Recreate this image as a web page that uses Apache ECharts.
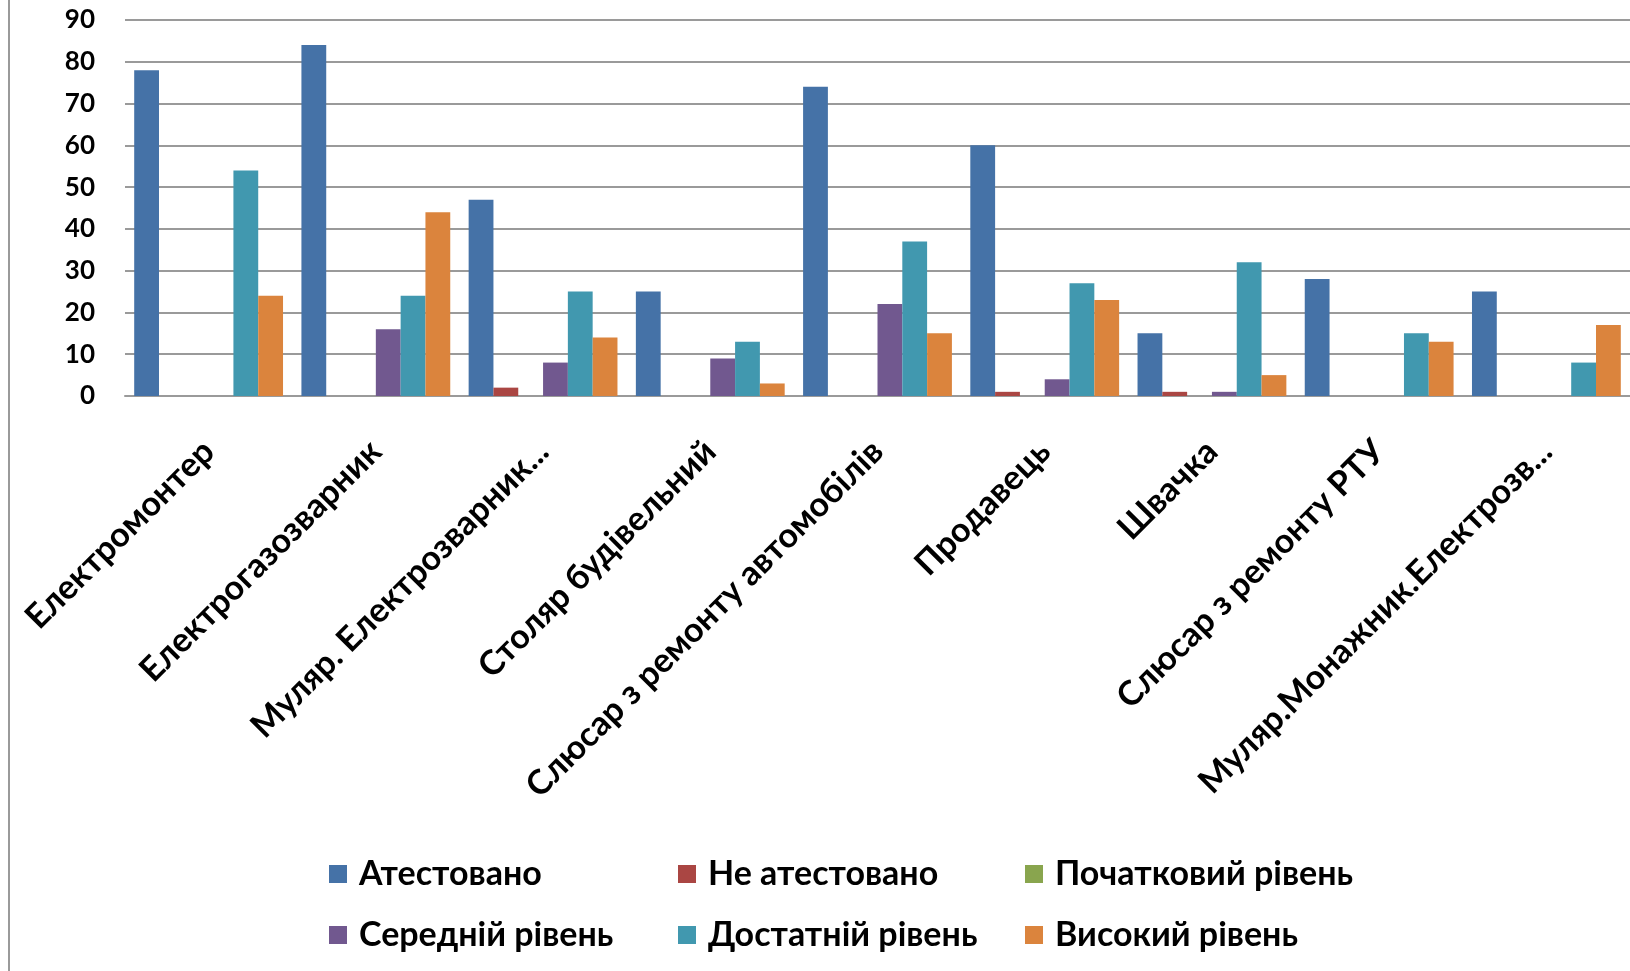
<!DOCTYPE html>
<html>
<head>
<meta charset="utf-8">
<script src="https://cdn.jsdelivr.net/npm/echarts@6/dist/echarts.min.js"></script>
<style>
html,body{margin:0;padding:0;background:#fff;}
#c{width:1630px;height:971px;}
</style>
</head>
<body>
<div id="c"></div>
<script>
const categories = ['Електромонтер','Електрогазозварник','Муляр. Електрозварник...','Столяр будівельний','Слюсар з ремонту автомобілів','Продавець','Швачка','Слюсар з ремонту РТУ','Муляр.Монажник.Електрозв...'];
const seriesNames = ['Атестовано','Не атестовано','Початковий рівень','Середній рівень','Достатній рівень','Високий рівень'];
const attested      = [78, 84, 47, 25, 74, 60, 15, 28, 25];
const notAttested   = [0, 0, 2, 0, 0, 1, 1, 0, 0];
const initialLevel  = [0, 0, 0, 0, 0, 0, 0, 0, 0];
const middleLevel   = [0, 16, 8, 9, 22, 4, 1, 0, 0];
const sufficientLvl = [54, 24, 25, 13, 37, 27, 32, 15, 8];
const highLevel     = [24, 44, 14, 3, 15, 23, 5, 13, 17];
const yTicks = [0, 10, 20, 30, 40, 50, 60, 70, 80, 90];

const colors = ['#4572A7','#AA4643','#89A54E','#71588F','#4198AF','#DB843D'];
const values = [attested, notAttested, initialLevel, middleLevel, sufficientLvl, highLevel];
const FONT = "Lato, 'Noto Sans', sans-serif";

const chart = echarts.init(document.getElementById('c'), null, {renderer:'canvas'});
const legendBase = {
  orient: 'vertical', top: 849, itemWidth: 18, itemHeight: 18, itemGap: 21, icon: 'rect',
  textStyle: {fontFamily: FONT, fontWeight: 'bold', fontSize: 34, color: '#000', lineHeight: 40, padding: [0,0,0,7]}
};
chart.setOption({
  animation: false,
  color: colors,
  graphic: [{type:'line', shape:{x1:9,y1:0,x2:9,y2:971}, style:{stroke:'#9a9a9a', lineWidth:2}}],
  legend: [
    Object.assign({}, legendBase, {left: 324, data: [seriesNames[0], seriesNames[3]]}),
    Object.assign({}, legendBase, {left: 673, data: [seriesNames[1], seriesNames[4]]}),
    Object.assign({}, legendBase, {left: 1020, data: [seriesNames[2], seriesNames[5]]})
  ],
  grid: {left: 125, top: 20, width: 1523, height: 376, containLabel: false},
  xAxis: {
    type: 'category', data: categories,
    axisTick: {show: false},
    axisLine: {lineStyle: {color: '#9a9a9a', width: 2}},
    axisLabel: {rotate: 45, margin: 50, interval: 0, fontFamily: FONT, fontWeight: 'bold', fontSize: 34, color: '#000'}
  },
  yAxis: {
    type: 'value', min: yTicks[0], max: yTicks[yTicks.length-1], interval: 10,
    axisLine: {show: false}, axisTick: {show: false},
    splitLine: {lineStyle: {color: '#9a9a9a', width: 2}},
    axisLabel: {margin: 30, fontFamily: FONT, fontWeight: 'bold', fontSize: 26, color: '#000'}
  },
  series: seriesNames.map((n, i) => ({
    name: n, type: 'bar', data: values[i], barGap: '0%', barCategoryGap: '11%',
    itemStyle: {color: colors[i]}
  }))
});
</script>
</body>
</html>
